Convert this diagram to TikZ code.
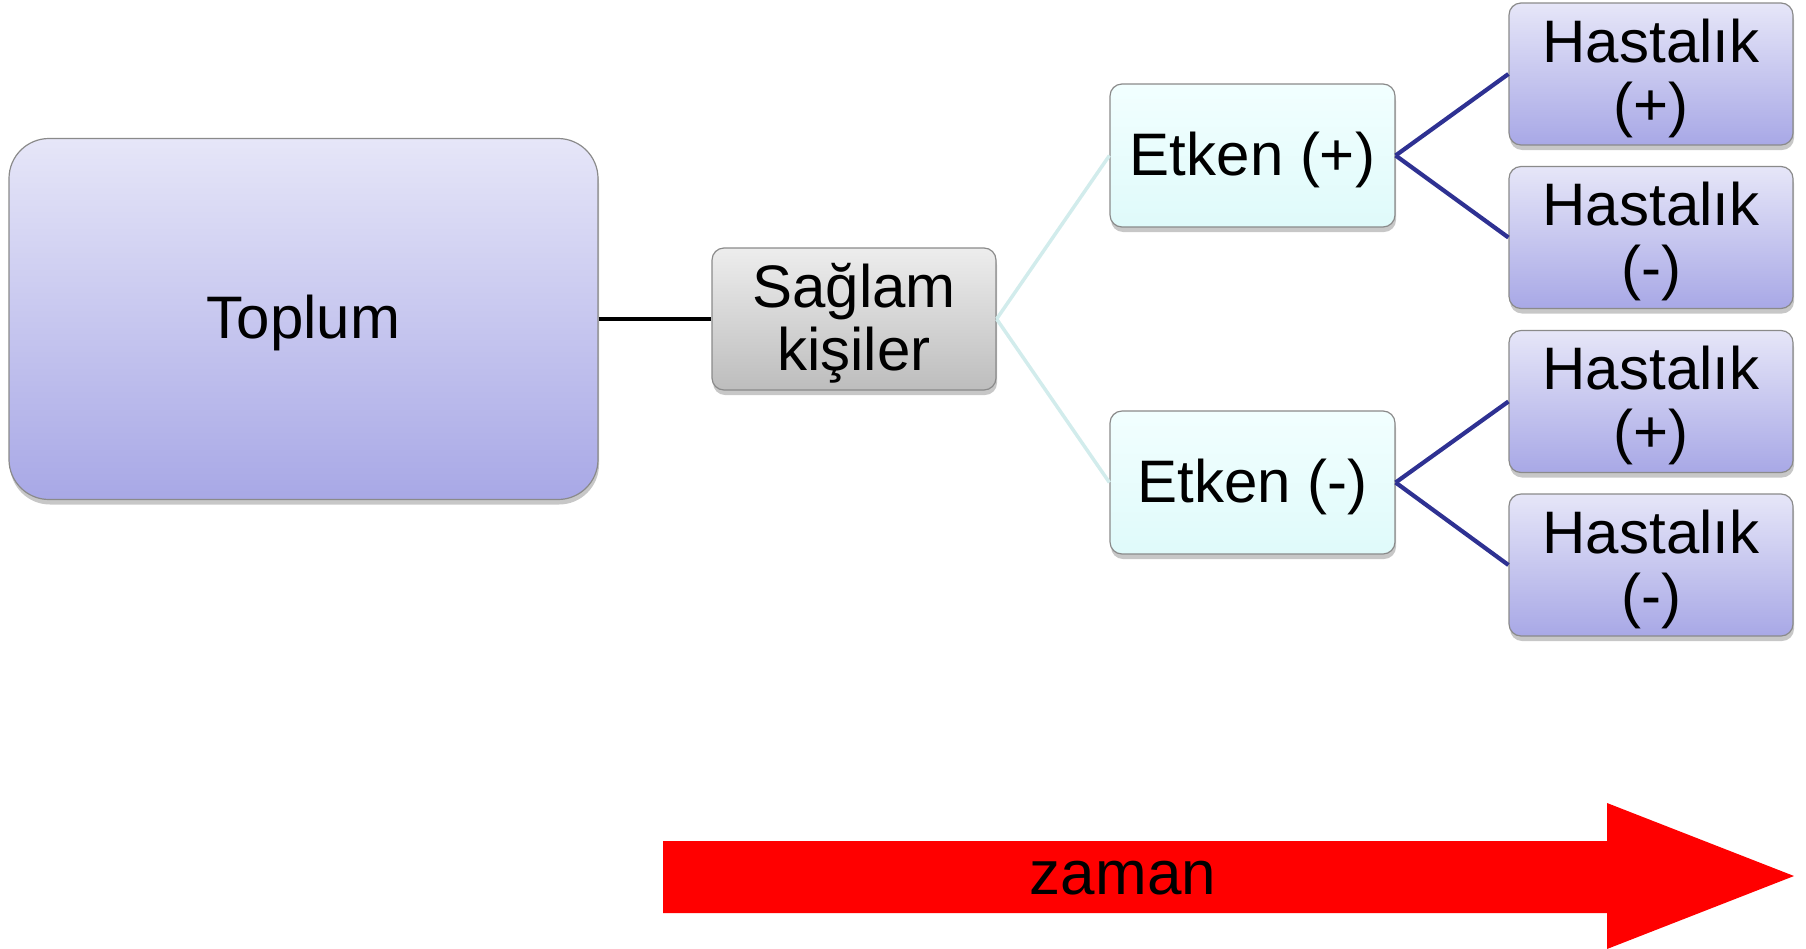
\documentclass[tikz,border=0pt]{standalone}
\usepackage{fontspec}
\setmainfont{Liberation Sans}
\usetikzlibrary{shadows}
\definecolor{lavtop}{HTML}{E6E6F8}
\definecolor{lavbot}{HTML}{A8A8E6}
\definecolor{cyantop}{HTML}{F2FFFF}
\definecolor{cyanbot}{HTML}{DFFAFA}
\definecolor{greytop}{HTML}{EDEDED}
\definecolor{greybot}{HTML}{BDBDBD}
\definecolor{boxedge}{HTML}{8A8A8A}
\definecolor{paleline}{HTML}{D2ECEC}
\definecolor{navyline}{HTML}{2E3192}
\tikzset{
  boxtext/.style={align=center, inner sep=0pt, yshift=-4pt,
    font=\fontsize{60}{63}\selectfont},
  basebox/.style={draw=boxedge, line width=1.2pt, inner sep=0pt,
    drop shadow={shadow xshift=1pt, shadow yshift=-5pt, fill=black, opacity=0.22}},
  lavbox/.style={basebox, top color=lavtop, bottom color=lavbot},
  cyanbox/.style={basebox, top color=cyantop, bottom color=cyanbot,
    minimum width=285pt, minimum height=143pt, rounded corners=12pt},
  greybox/.style={basebox, top color=greytop, bottom color=greybot,
    minimum width=284pt, minimum height=142pt, rounded corners=12pt},
  leafbox/.style={lavbox, minimum width=284pt, minimum height=142pt, rounded corners=12pt},
  paleedge/.style={draw=paleline, line width=3.5pt},
  navyedge/.style={draw=navyline, line width=4.2pt},
}
\begin{document}
\begin{tikzpicture}[x=1pt, y=-1pt]
\useasboundingbox (0,0) rectangle (1806,948);
% population block and the healthy group
\node[lavbox, minimum width=589pt, minimum height=361pt, rounded corners=40pt,
  label={[boxtext]center:Toplum}] (toplum) at (303.5,319) {};
\node[greybox, label={[boxtext]center:Sağlam\\kişiler}] (saglam) at (854,319) {};
% exposure
\node[cyanbox, label={[boxtext]center:Etken (+)}] (etkenp) at (1252.5,155.5) {};
\node[cyanbox, label={[boxtext]center:Etken (-)}] (etkenm) at (1252.5,482.5) {};
% outcomes
\node[leafbox, label={[boxtext]center:Hastalık\\(+)}] (h1) at (1651,74) {};
\node[leafbox, label={[boxtext]center:Hastalık\\(-)}] (h2) at (1651,237.5) {};
\node[leafbox, label={[boxtext]center:Hastalık\\(+)}] (h3) at (1651,401.5) {};
\node[leafbox, label={[boxtext]center:Hastalık\\(-)}] (h4) at (1651,565) {};
% connectors
\draw[line width=4.2pt] (toplum.east) -- (saglam.west);
\draw[paleedge] (saglam.east) -- (etkenp.west);
\draw[paleedge] (saglam.east) -- (etkenm.west);
\draw[navyedge] (etkenp.east) -- (h1.west);
\draw[navyedge] (etkenp.east) -- (h2.west);
\draw[navyedge] (etkenm.east) -- (h3.west);
\draw[navyedge] (etkenm.east) -- (h4.west);
% time arrow
\fill[red] (663,841) -- (1607,841) -- (1607,803) -- (1794,876)
  -- (1607,949) -- (1607,913) -- (663,913) -- cycle;
\node[font=\fontsize{62}{66}\selectfont, inner sep=0pt] (zaman) at (1123,878) {zaman};
\end{tikzpicture}
\end{document}
